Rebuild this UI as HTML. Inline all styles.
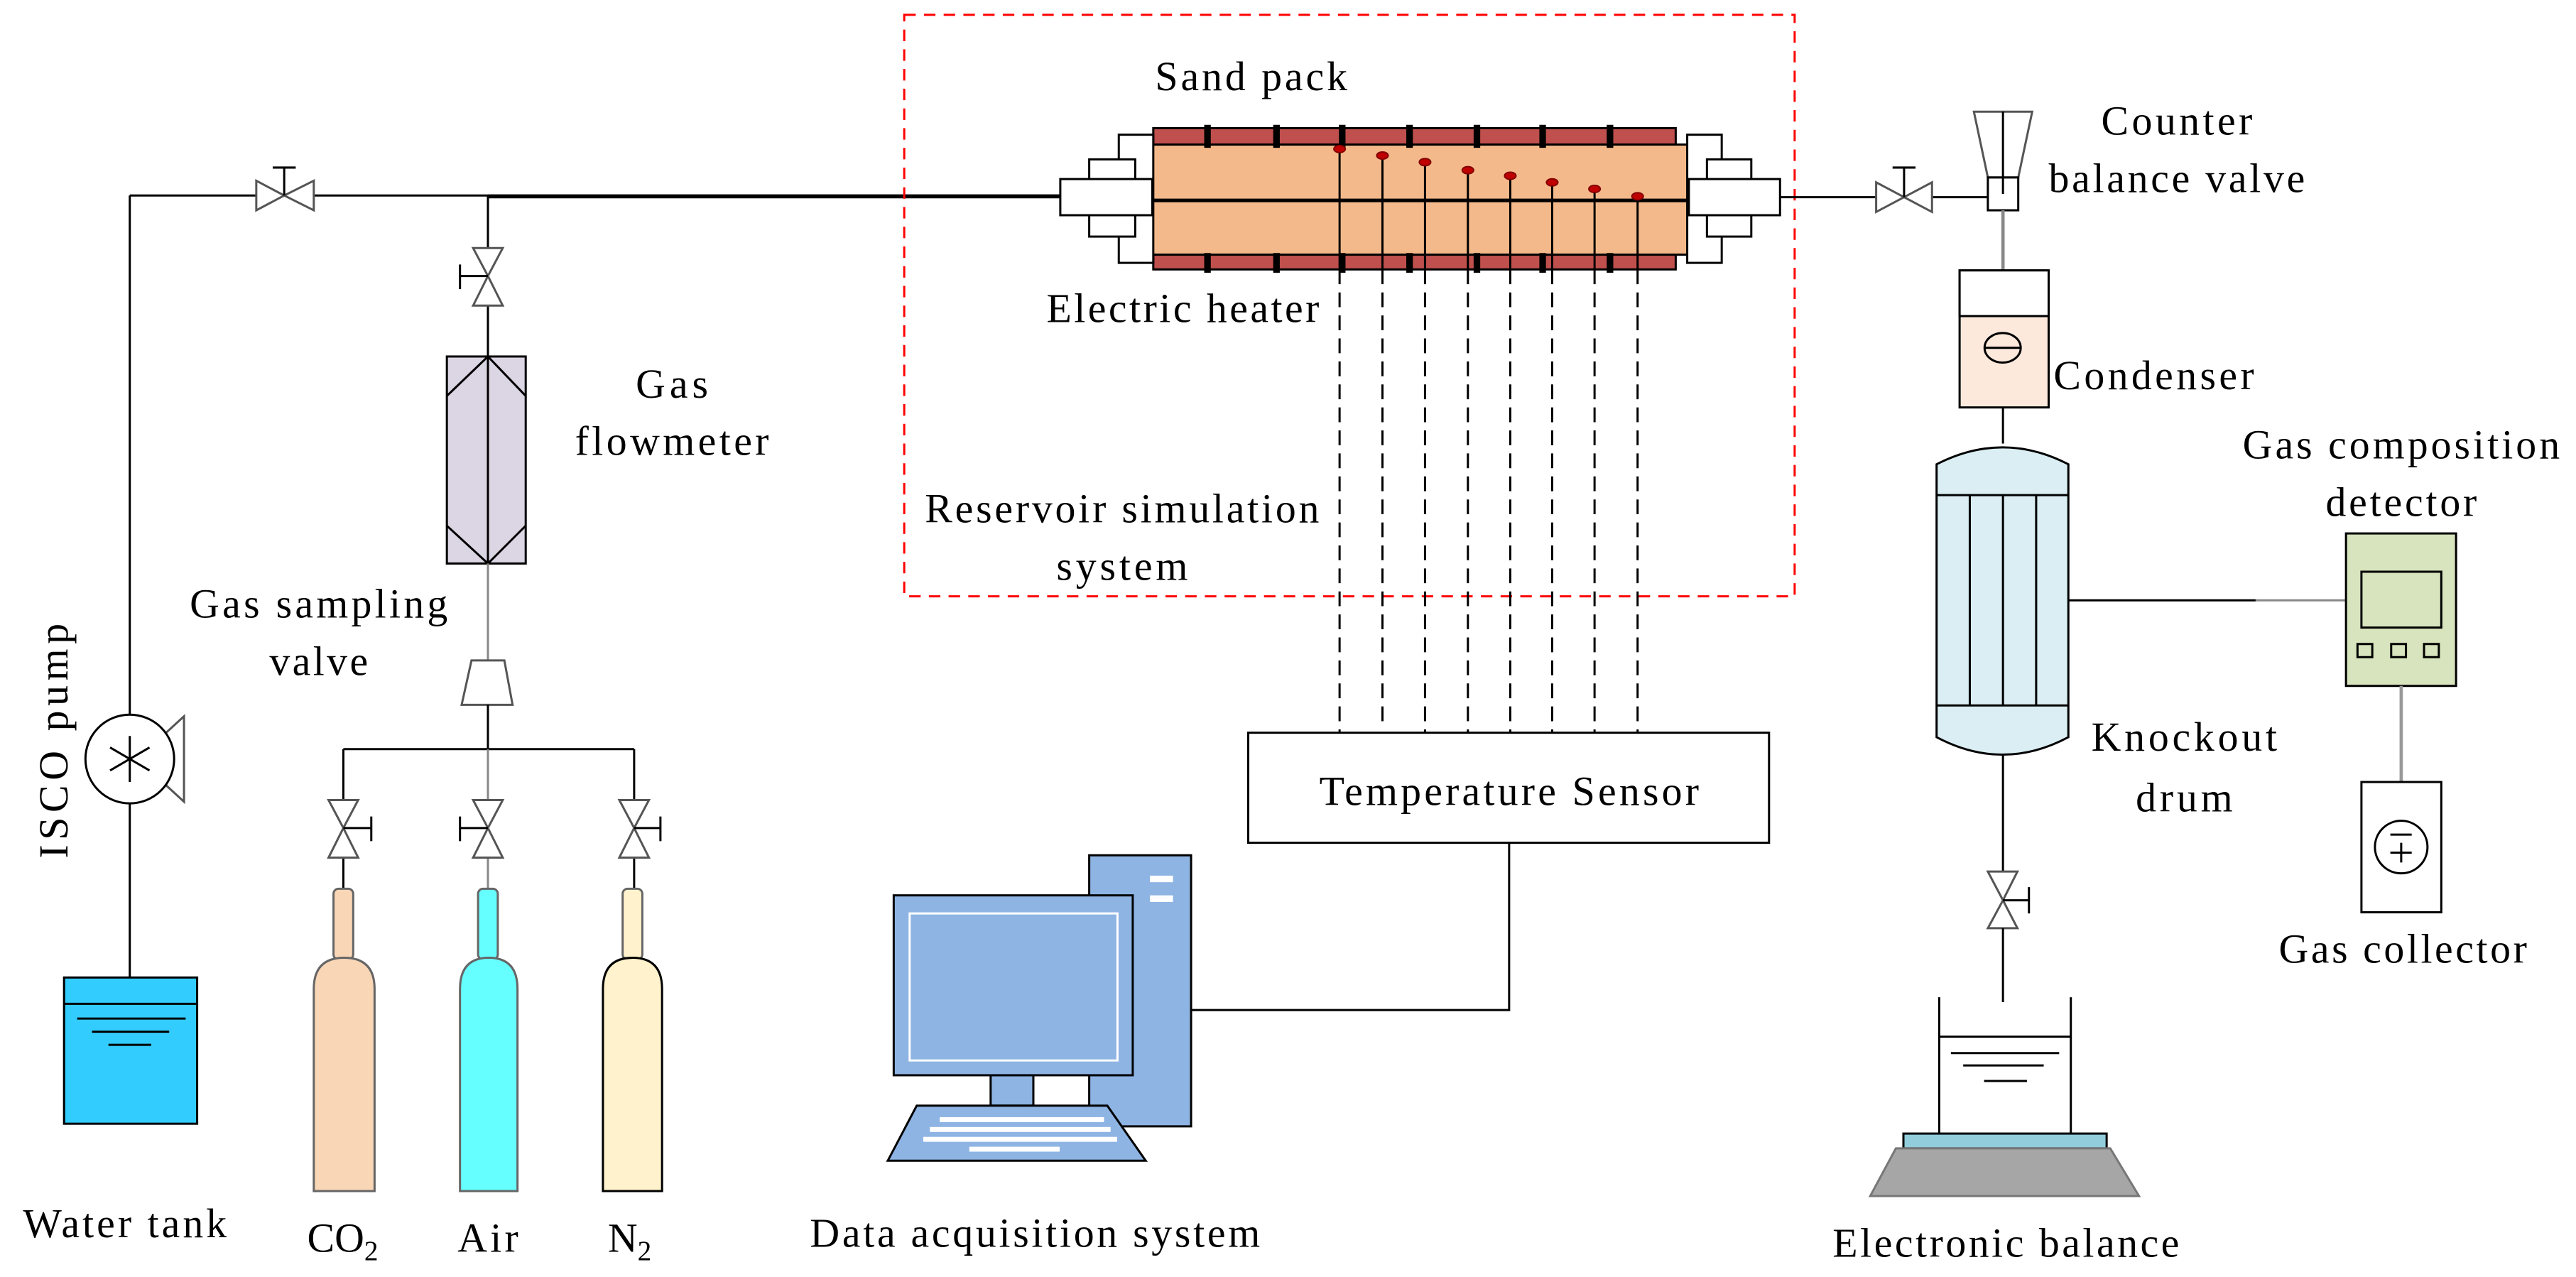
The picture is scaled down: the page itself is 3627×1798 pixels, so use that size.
<!DOCTYPE html>
<html><head><meta charset="utf-8"><style>
html,body{margin:0;padding:0;background:#fff;}
svg{display:block;}
svg text{font-family:"Liberation Serif","Times New Roman",serif !important;font-size:25px;fill:#000;}
</style></head><body>
<svg width="3627" height="1798" viewBox="0 0 1568 777.3" preserveAspectRatio="none" xmlns="http://www.w3.org/2000/svg">
<g fill="none" stroke="#000" stroke-width="1.3">
<line x1="79" y1="119" x2="297" y2="119"/>
<line x1="297" y1="119.5" x2="646" y2="119.5" stroke-width="2.4"/>
<line x1="79" y1="119" x2="79" y2="595"/>
<path d="M156,110 L173,119 L156,128 Z M191,110 L173,119 L191,128 Z" fill="#fff" stroke="#555"/>
<line x1="173" y1="119" x2="173" y2="102"/><line x1="166" y1="102" x2="180" y2="102"/>
<line x1="297" y1="119" x2="297" y2="217"/>
<path d="M288,151 L297,168 L306,151 Z M288,186 L297,168 L306,186 Z" fill="#fff" stroke="#555"/>
<line x1="280" y1="168" x2="297" y2="168"/><line x1="280" y1="161" x2="280" y2="176"/>
<rect x="272" y="217" width="48" height="126" fill="#dcd6e4"/>
<path d="M272,241 L297,217 L320,241 M272,320 L297,343 L320,320"/>
<line x1="297" y1="217" x2="297" y2="343"/>
<line x1="297" y1="343" x2="297" y2="402" stroke="#888"/>
<path d="M287,402 L307,402 L312,429 L281,429 Z" fill="#fff" stroke="#555"/>
<line x1="297" y1="429" x2="297" y2="456"/>
<line x1="209" y1="456" x2="386" y2="456"/>
<line x1="209" y1="456" x2="209" y2="541"/><line x1="297" y1="456" x2="297" y2="541" stroke="#888"/><line x1="386" y1="456" x2="386" y2="541"/>
<path d="M200,487 L209,504 L218,487 Z M200,522 L209,504 L218,522 Z" fill="#fff" stroke="#555"/>
<line x1="209" y1="504" x2="226" y2="504"/><line x1="226" y1="497" x2="226" y2="512"/>
<path d="M288,487 L297,504 L306,487 Z M288,522 L297,504 L306,522 Z" fill="#fff" stroke="#555"/>
<line x1="280" y1="504" x2="297" y2="504"/><line x1="280" y1="497" x2="280" y2="512"/>
<path d="M377,487 L386,504 L395,487 Z M377,522 L386,504 L395,522 Z" fill="#fff" stroke="#555"/>
<line x1="386" y1="504" x2="402" y2="504"/><line x1="402" y1="497" x2="402" y2="512"/>
<rect x="203" y="541" width="12" height="43" rx="3" fill="#f9d6b6" stroke="#666"/>
<path d="M191,725 V602 Q191,583 209.5,583 Q228,583 228,602 V725 Z" fill="#f9d6b6" stroke="#666"/>
<rect x="291" y="541" width="12" height="43" rx="3" fill="#66ffff" stroke="#666"/>
<path d="M280,725 V602 Q280,583 297.5,583 Q315,583 315,602 V725 Z" fill="#66ffff" stroke="#666"/>
<rect x="379" y="541" width="12" height="43" rx="3" fill="#fff2cc" stroke="#666"/>
<path d="M367,725 V602 Q367,583 385,583 Q403,583 403,602 V725 Z" fill="#fff2cc" stroke="#000"/>
<path d="M100,447 L112,436 L112,488 L100,477" fill="#fff" stroke="#555"/>
<circle cx="79" cy="462" r="27" fill="#fff"/>
<path d="M79,448 V476 M67,455 L91,469 M67,469 L91,455"/>
<rect x="39" y="595" width="81" height="89" fill="#33ccff"/>
<line x1="39" y1="611" x2="120" y2="611"/>
<path d="M47,620 H113 M56,628 H103 M66,636 H92"/>
<rect x="550.4" y="9" width="542" height="354" stroke="#ff0000" stroke-dasharray="7,5"/>
<rect x="702" y="78" width="318" height="10" fill="#c0504d" stroke="#000"/>
<rect x="702" y="155" width="318" height="9" fill="#c0504d" stroke="#000"/>
<rect x="701.7" y="88" width="325.5" height="67" fill="#f4b98a" stroke="#000"/>
<line x1="701.7" y1="122" x2="1027" y2="122" stroke-width="2.2"/>
<g stroke-width="4">
<path d="M735,76 V90 M777,76 V90 M817,76 V90 M858,76 V90 M899,76 V90 M939,76 V90 M980,76 V90"/>
<path d="M735,154 V166 M777,154 V166 M817,154 V166 M858,154 V166 M899,154 V166 M939,154 V166 M980,154 V166"/>
</g>
<rect x="681" y="82" width="21" height="78" fill="#fff"/>
<rect x="663" y="97" width="28" height="47" fill="#fff"/>
<rect x="645.4" y="109" width="56" height="22" fill="#fff"/>
<rect x="1027" y="82" width="21" height="78" fill="#fff"/>
<rect x="1039" y="97" width="27" height="47" fill="#fff"/>
<rect x="1028" y="109" width="55.5" height="22" fill="#fff"/>
<line x1="1083.5" y1="120" x2="1210" y2="120"/>
<path d="M1142,111 L1159,120 L1142,129 Z M1176,111 L1159,120 L1176,129 Z" fill="#fff" stroke="#555"/>
<line x1="1159" y1="120" x2="1159" y2="102"/><line x1="1152" y1="102" x2="1166" y2="102"/>
<path d="M815.4,91 V164 M841.5,95 V164 M867.4,99 V164 M893.5,104 V164 M919.3,107 V164 M944.8,111 V164 M970.6,115 V164 M996.8,120 V164"/>
<path d="M815.4,164 V446 M841.5,164 V440 M867.4,164 V446 M893.5,164 V446 M919.3,164 V446 M944.8,164 V446 M970.6,164 V446 M996.8,164 V446" stroke-dasharray="9,5"/>
<g fill="#c00000" stroke="#800000" stroke-width="0.8">
<ellipse cx="815.4" cy="90.7" rx="3.5" ry="2.2"/><ellipse cx="841.5" cy="94.7" rx="3.5" ry="2.2"/><ellipse cx="867.4" cy="98.7" rx="3.5" ry="2.2"/><ellipse cx="893.5" cy="103.6" rx="3.5" ry="2.2"/><ellipse cx="919.3" cy="107" rx="3.5" ry="2.2"/><ellipse cx="944.8" cy="111" rx="3.5" ry="2.2"/><ellipse cx="970.6" cy="115" rx="3.5" ry="2.2"/><ellipse cx="996.8" cy="119.5" rx="3.5" ry="2.2"/>
</g>
<rect x="759.8" y="446" width="317" height="67" fill="#fff"/>
<path d="M918.6,513 V614.8 H725"/>
<rect x="663" y="520.6" width="62" height="165" fill="#8eb4e3"/>
<rect x="700" y="533" width="14" height="4" fill="#fff" stroke="none"/><rect x="700" y="545" width="14" height="4" fill="#fff" stroke="none"/>
<rect x="603" y="654" width="26" height="19" fill="#8eb4e3"/>
<rect x="544" y="545" width="145.5" height="109.5" fill="#8eb4e3"/>
<rect x="553.7" y="556" width="126.5" height="89.5" fill="none" stroke="#fff"/>
<path d="M558,673 L674,673 L697.4,706.5 L540.4,706.5 Z" fill="#8eb4e3"/>
<g fill="#fff" stroke="none">
<rect x="572" y="680" width="100" height="3"/><rect x="566" y="686" width="110" height="3"/><rect x="562" y="692" width="118" height="3"/><rect x="590" y="698" width="55" height="3"/>
</g>
<path d="M1201.5,68 L1237,68 L1228.5,108 L1210,108 Z" fill="#fff" stroke="#555"/>
<line x1="1219.2" y1="68" x2="1219.2" y2="118"/>
<rect x="1210" y="108" width="18.5" height="20" fill="none"/>
<line x1="1219.2" y1="128" x2="1219.2" y2="164.6" stroke="#888" stroke-width="2"/>
<rect x="1192.8" y="164.6" width="54.2" height="83.4" fill="#fce9dc"/>
<rect x="1192.8" y="164.6" width="54.2" height="27.8" fill="#fff"/>
<ellipse cx="1219" cy="211.7" rx="11" ry="9"/><line x1="1208" y1="211.7" x2="1230" y2="211.7"/>
<line x1="1219.2" y1="248" x2="1219.2" y2="270"/>
<path d="M1178.8,282.6 Q1219,262 1259,282.6 V448.7 Q1219,470 1178.8,448.7 Z" fill="#daeef3"/>
<path d="M1178.8,301.4 H1259 M1178.8,429.4 H1259 M1199,301.4 V429.4 M1219.2,301.4 V429.4 M1239.4,301.4 V429.4"/>
<line x1="1259" y1="365.4" x2="1373" y2="365.4"/><line x1="1373" y1="365.4" x2="1428" y2="365.4" stroke="#888"/>
<rect x="1428" y="324.7" width="67" height="92.8" fill="#d7e4bd"/>
<rect x="1437.4" y="348" width="48.6" height="34"/>
<rect x="1435" y="392" width="9" height="8"/><rect x="1455.5" y="392" width="9" height="8"/><rect x="1475.5" y="392" width="9" height="8"/>
<line x1="1461.6" y1="417.5" x2="1461.6" y2="476" stroke="#999" stroke-width="2"/>
<rect x="1437.4" y="476" width="48.6" height="79.3" fill="#fff"/>
<ellipse cx="1461.6" cy="515.6" rx="16" ry="16"/>
<path d="M1455,508 H1468 M1455,519 H1468 M1461.6,513 V525"/>
<line x1="1219.2" y1="460" x2="1219.2" y2="530"/>
<path d="M1210,530.5 L1219.2,548 L1228,530.5 Z M1210,565 L1219.2,548 L1228,565 Z" fill="#fff" stroke="#555"/>
<line x1="1219.2" y1="548" x2="1235" y2="548"/><line x1="1235" y1="540" x2="1235" y2="556"/>
<line x1="1219.2" y1="565" x2="1219.2" y2="610"/>
<path d="M1180.4,607 V690 M1260.5,607 V690 M1180.4,631 H1260.5 M1187.5,641 H1253.4 M1195,648.5 H1244 M1207.7,658 H1233.8"/>
<rect x="1158.6" y="690" width="123.7" height="9" fill="#92cddc"/>
<path d="M1154,699 L1284.5,699 L1302,728 L1138.4,728 Z" fill="#a6a6a6" stroke="#777"/>
</g>
<g font-family="Liberation Serif, serif" font-size="25" fill="#000">
<text x="409" y="242" text-anchor="middle" textLength="44">Gas</text>
<text x="409" y="277" text-anchor="middle" textLength="118">flowmeter</text>
<text x="194" y="376" text-anchor="middle" textLength="157">Gas sampling</text>
<text x="194" y="411" text-anchor="middle" textLength="60">valve</text>
<text transform="translate(41,451) rotate(-90)" text-anchor="middle" textLength="143">ISCO pump</text>
<text x="76" y="753" text-anchor="middle" textLength="124">Water tank</text>
<text x="187" y="762">CO<tspan font-size="17" dy="5">2</tspan></text>
<text x="297" y="762" text-anchor="middle" textLength="37">Air</text>
<text x="370" y="762">N<tspan font-size="17" dy="5">2</tspan></text>
<text x="761.6" y="55" text-anchor="middle" textLength="117">Sand pack</text>
<text x="720" y="196" text-anchor="middle" textLength="166">Electric heater</text>
<text x="683" y="318" text-anchor="middle" textLength="240">Reservoir simulation</text>
<text x="683" y="353" text-anchor="middle" textLength="80">system</text>
<text x="918.6" y="490" text-anchor="middle" textLength="231">Temperature Sensor</text>
<text x="630" y="759" text-anchor="middle" textLength="274">Data acquisition system</text>
<text x="1325" y="82" text-anchor="middle" textLength="92">Counter</text>
<text x="1325" y="117" text-anchor="middle" textLength="156">balance valve</text>
<text x="1250" y="237" textLength="122">Condenser</text>
<text x="1461.6" y="279" text-anchor="middle" textLength="193">Gas composition</text>
<text x="1461.6" y="314" text-anchor="middle" textLength="92">detector</text>
<text x="1329.5" y="457" text-anchor="middle" textLength="113">Knockout</text>
<text x="1329.5" y="494" text-anchor="middle" textLength="59">drum</text>
<text x="1462.6" y="586" text-anchor="middle" textLength="151">Gas collector</text>
<text x="1221" y="765" text-anchor="middle" textLength="211">Electronic balance</text>
</g>
</svg>
</body></html>
